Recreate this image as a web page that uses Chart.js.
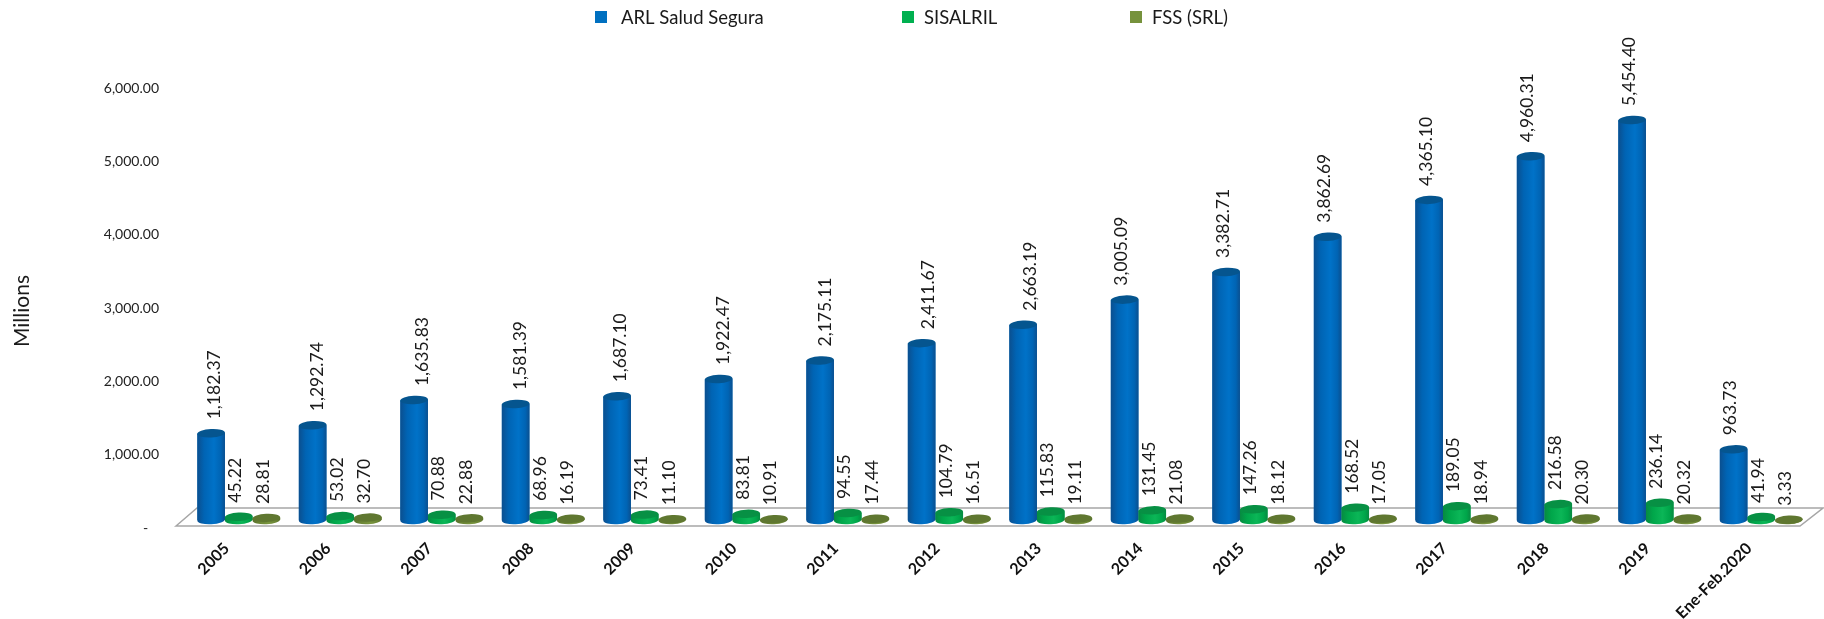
<!DOCTYPE html>
<html>
<head>
<meta charset="utf-8">
<style>
  html, body { margin: 0; padding: 0; background: #fff; }
  #wrap { position: relative; width: 1824px; height: 619px; overflow: hidden; }
</style>
<script src="https://cdn.jsdelivr.net/npm/chart.js@4/dist/chart.umd.min.js"></script>
</head>
<body>
<div id="wrap"><canvas id="chart" width="1824" height="619"></canvas></div>
<script>
const categories = ['2005', '2006', '2007', '2008', '2009', '2010', '2011', '2012', '2013', '2014', '2015', '2016', '2017', '2018', '2019', 'Ene-Feb.2020'];
const arlValues = [1182.37, 1292.74, 1635.83, 1581.39, 1687.10, 1922.47, 2175.11, 2411.67, 2663.19, 3005.09, 3382.71, 3862.69, 4365.10, 4960.31, 5454.40, 963.73];
const sisalrilValues = [45.22, 53.02, 70.88, 68.96, 73.41, 83.81, 94.55, 104.79, 115.83, 131.45, 147.26, 168.52, 189.05, 216.58, 236.14, 41.94];
const fssValues = [28.81, 32.70, 22.88, 16.19, 11.10, 10.91, 17.44, 16.51, 19.11, 21.08, 18.12, 17.05, 18.94, 20.30, 20.32, 3.33];
const yTicks = [0, 1000, 2000, 3000, 4000, 5000, 6000];

const FONT = 'Lato, Carlito, sans-serif';
// the first blue labels sit a bit right of their bars in the original
const arlLabelNudge = [3, 5, 8, 5, 3, 5, 5, 7, 7, -3, -3, -3, -3, -3, -3, -3];
const TILT = -0.05;

function fmt(v) {
  return v.toLocaleString('en-US', { minimumFractionDigits: 2, maximumFractionDigits: 2 });
}

function shade(ctx, bar, ds) {
  const half = bar.width / 2;
  const g = ctx.createLinearGradient(bar.x - half, 0, bar.x + half, 0);
  g.addColorStop(0, ds.dark);
  g.addColorStop(0.25, ds.mid);
  g.addColorStop(0.6, ds.light);
  g.addColorStop(0.85, ds.mid);
  g.addColorStop(1, ds.dark);
  return g;
}

// the cylinders: body with a side gradient, flat ellipse on top
const cylinders = {
  id: 'cylinders',
  afterDatasetsDraw(chart) {
    const ctx = chart.ctx;
    chart.data.datasets.forEach((ds, di) => {
      const meta = chart.getDatasetMeta(di);
      meta.data.forEach((bar, i) => {
        const half = bar.width / 2;
        const ry = 4.2;
        const lift = half * Math.sin(TILT);
        ctx.save();
        ctx.fillStyle = shade(ctx, bar, ds);
        ctx.beginPath();
        ctx.moveTo(bar.x - half, bar.y - lift);
        ctx.lineTo(bar.x - half, bar.base - lift);
        ctx.ellipse(bar.x, bar.base, half, ry, TILT, Math.PI, 0, true);
        ctx.lineTo(bar.x + half, bar.y + lift);
        ctx.closePath();
        ctx.fill();
        ctx.fillStyle = ds.top;
        ctx.beginPath();
        ctx.ellipse(bar.x, bar.y, half, ry, TILT, 0, Math.PI * 2);
        ctx.fill();
        ctx.restore();

        // value label, rotated, sitting above the cylinder
        const dx = di === 0 ? arlLabelNudge[i] : -3;
        ctx.save();
        ctx.translate(bar.x + dx, bar.y - 14);
        ctx.rotate(-Math.PI / 2);
        ctx.font = '17.5px ' + FONT;
        ctx.fillStyle = '#1a1a1a';
        ctx.textAlign = 'left';
        ctx.textBaseline = 'middle';
        ctx.fillText(fmt(ds.data[i]), 0, 0);
        ctx.restore();
      });
    });
  }
};

// the 3D floor of the plot, behind the bars
const floor = {
  id: 'floor',
  beforeDatasetsDraw(chart) {
    const ctx = chart.ctx;
    const a = chart.chartArea;
    const front = a.bottom + 6;
    const back = a.bottom - 12;
    ctx.save();
    ctx.strokeStyle = '#a6a6a6';
    ctx.lineWidth = 1.5;
    ctx.beginPath();
    ctx.moveTo(a.left - 12, front);
    ctx.lineTo(a.left + 9, back);
    ctx.lineTo(a.right + 11, back);
    ctx.lineTo(a.right - 12, front);
    ctx.closePath();
    ctx.stroke();
    ctx.restore();
  }
};

// legend row and the y title
const extras = {
  id: 'extras',
  afterDraw(chart) {
    const ctx = chart.ctx;
    const items = [[595, 621, 0], [902, 924, 1], [1130, 1152, 2]];
    ctx.save();
    ctx.textBaseline = 'middle';
    ctx.font = '18.5px ' + FONT;
    items.forEach(([bx, tx, di]) => {
      const ds = chart.data.datasets[di];
      ctx.fillStyle = ds.backgroundColor;
      ctx.fillRect(bx, 11, 12, 12);
      ctx.fillStyle = '#1a1a1a';
      ctx.fillText(ds.label, tx, 18);
    });
    ctx.translate(22, 311);
    ctx.rotate(-Math.PI / 2);
    ctx.font = '21px ' + FONT;
    ctx.textAlign = 'center';
    ctx.fillStyle = '#1a1a1a';
    ctx.fillText('Millions', 0, 0);
    ctx.restore();
  }
};

new Chart(document.getElementById('chart'), {
  type: 'bar',
  data: {
    labels: categories,
    datasets: [
      { label: 'ARL Salud Segura', data: arlValues, backgroundColor: '#0070c0', dark: '#0b4f8f', mid: '#0064b4', light: '#0072c8', top: '#05558f' },
      { label: 'SISALRIL', data: sisalrilValues, backgroundColor: '#00b050', dark: '#078a41', mid: '#00a64a', light: '#0bb657', top: '#079044' },
      { label: 'FSS (SRL)', data: fssValues, backgroundColor: '#76923c', dark: '#59702c', mid: '#6b8535', light: '#7a963f', top: '#5f7730' }
    ]
  },
  options: {
    responsive: false,
    animation: false,
    layout: { padding: { left: 0, right: 12, top: 80, bottom: 0 } },
    plugins: { legend: { display: false }, tooltip: { enabled: false } },
    datasets: { bar: { categoryPercentage: 0.816, barPercentage: 1 } },
    scales: {
      x: {
        afterFit(scale) { scale.height = 99; },
        grid: { display: false },
        border: { display: false },
        ticks: {
          maxRotation: 45,
          minRotation: 45,
          autoSkip: false,
          padding: 11,
          labelOffset: -12,
          color: '#111',
          font: { family: FONT, weight: 'bold', size: 16 }
        }
      },
      y: {
        min: 0,
        max: 6000,
        afterFit(scale) { scale.width = 188; },
        grid: { display: false },
        border: { display: false },
        afterBuildTicks(scale) { scale.ticks = yTicks.map(v => ({ value: v })); },
        ticks: {
          labelOffset: 8,
          padding: 21,
          color: '#222',
          font: { family: FONT, size: 14 },
          callback: v => v === 0 ? '-   ' : fmt(v)
        }
      }
    }
  },
  plugins: [floor, cylinders, extras]
});
</script>
</body>
</html>
